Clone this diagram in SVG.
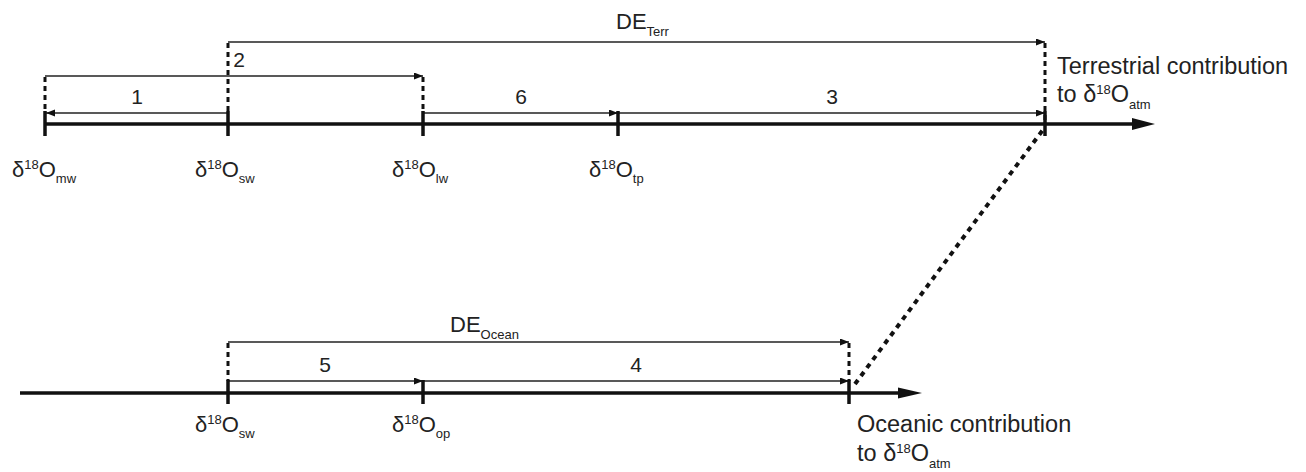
<svg xmlns="http://www.w3.org/2000/svg" width="1306" height="472" viewBox="0 0 1306 472">
<style>
text{font-family:"Liberation Sans",Arial,sans-serif;fill:#222}
.lab{font-size:22px}
.num{font-size:21px;text-anchor:middle}
.de{font-size:22px}
.big{font-size:23.5px}
.sup{font-size:13px}
.sub{font-size:13px}
.axis{stroke:#111;stroke-width:3.5;fill:none}
.tick{stroke:#111;stroke-width:3.5}
.thin{stroke:#222;stroke-width:1.6;fill:none;marker-end:url(#ah)}
.dash{stroke:#111;stroke-width:3;stroke-dasharray:5,4;fill:none}
.dot{stroke:#111;stroke-width:4;stroke-dasharray:5,5;fill:none}
</style>
<defs>
<marker id="ah" markerUnits="userSpaceOnUse" markerWidth="10" markerHeight="8" refX="9" refY="3.5" orient="auto">
<path d="M0,0 L9,3.5 L0,7 z" fill="#111"/>
</marker>
</defs>
<rect width="1306" height="472" fill="#fff"/>
<g id="connectors">
<line class="axis" x1="45" y1="124" x2="1136" y2="124"/>
<polygon points="1132,118 1155,124 1132,130" fill="#111"/>
<line class="axis" x1="20" y1="393" x2="902" y2="393"/>
<polygon points="898,387.5 922,393 898,398.5" fill="#111"/>
<line class="dash" x1="45" y1="77" x2="45" y2="112"/>
<line class="dash" x1="228" y1="43" x2="228" y2="112"/>
<line class="dash" x1="423" y1="77" x2="423" y2="112"/>
<line class="dash" x1="1045" y1="43" x2="1045" y2="124"/>
<line class="dash" x1="228" y1="343" x2="228" y2="381"/>
<line class="dash" x1="849" y1="343" x2="849" y2="381"/>
<line class="dot" x1="855" y1="384" x2="1045" y2="127"/>
<line class="thin" x1="228" y1="42" x2="1045" y2="42"/>
<line class="thin" x1="45" y1="76" x2="423" y2="76"/>
<line class="thin" x1="228" y1="113" x2="46" y2="113"/>
<line class="thin" x1="423" y1="113" x2="618" y2="113"/>
<line class="thin" x1="618" y1="113" x2="1045" y2="113"/>
<line class="thin" x1="228" y1="342" x2="849" y2="342"/>
<line class="thin" x1="228" y1="381" x2="423" y2="381"/>
<line class="thin" x1="423" y1="381" x2="849" y2="381"/>
</g>
<g id="ticks">
<line class="tick" x1="45" y1="111" x2="45" y2="136"/>
<line class="tick" x1="228" y1="111" x2="228" y2="136"/>
<line class="tick" x1="423" y1="111" x2="423" y2="136"/>
<line class="tick" x1="618" y1="111" x2="618" y2="136"/>
<line class="tick" x1="1045" y1="111" x2="1045" y2="136"/>
<line class="tick" x1="228" y1="380" x2="228" y2="404"/>
<line class="tick" x1="423" y1="380" x2="423" y2="404"/>
<line class="tick" x1="849" y1="380" x2="849" y2="404"/>
</g>
<g id="node-mw"><text class="lab" x="12" y="177">δ<tspan class="sup" dy="-8">18</tspan><tspan dy="8">O</tspan><tspan class="sub" dy="6">mw</tspan></text></g>
<g id="node-sw-top"><text class="lab" x="195" y="177">δ<tspan class="sup" dy="-8">18</tspan><tspan dy="8">O</tspan><tspan class="sub" dy="6">sw</tspan></text></g>
<g id="node-lw"><text class="lab" x="392" y="177">δ<tspan class="sup" dy="-8">18</tspan><tspan dy="8">O</tspan><tspan class="sub" dy="6">lw</tspan></text></g>
<g id="node-tp"><text class="lab" x="589" y="177">δ<tspan class="sup" dy="-8">18</tspan><tspan dy="8">O</tspan><tspan class="sub" dy="6">tp</tspan></text></g>
<g id="node-sw-bottom"><text class="lab" x="195" y="432">δ<tspan class="sup" dy="-8">18</tspan><tspan dy="8">O</tspan><tspan class="sub" dy="6">sw</tspan></text></g>
<g id="node-op"><text class="lab" x="392" y="432">δ<tspan class="sup" dy="-8">18</tspan><tspan dy="8">O</tspan><tspan class="sub" dy="6">op</tspan></text></g>
<g id="node-terr">
<text class="big" x="1057" y="74">Terrestrial contribution</text>
<text class="big" x="1057" y="102">to δ<tspan class="sup" dy="-8">18</tspan><tspan dy="8">O</tspan><tspan class="sub" dy="7">atm</tspan></text>
</g>
<g id="node-ocean">
<text class="big" x="857" y="432">Oceanic contribution</text>
<text class="big" x="857" y="461">to δ<tspan class="sup" dy="-8">18</tspan><tspan dy="8">O</tspan><tspan class="sub" dy="7">atm</tspan></text>
</g>
<g id="labels">
<text class="de" x="616" y="29">DE<tspan class="sub" dy="7">Terr</tspan></text>
<text class="de" x="450" y="332">DE<tspan class="sub" dy="7">Ocean</tspan></text>
<text class="num" x="137" y="104">1</text>
<text class="num" x="239" y="67">2</text>
<text class="num" x="521" y="104">6</text>
<text class="num" x="832" y="104">3</text>
<text class="num" x="325" y="372">5</text>
<text class="num" x="636" y="372">4</text>
</g>
</svg>
